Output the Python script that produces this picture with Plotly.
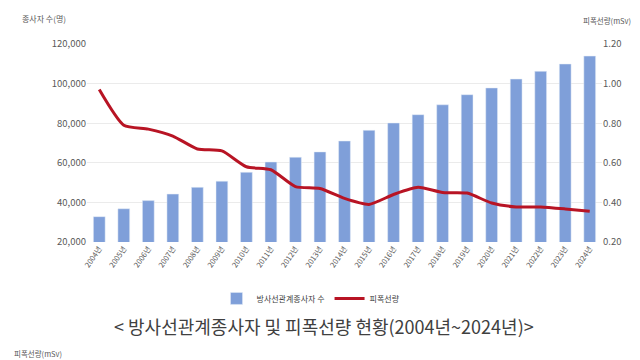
import plotly.graph_objects as go

years = [f"{y}년" for y in range(2004, 2025)]
workers = [32800, 36800, 40900, 44200, 47600, 50700, 55200, 60400, 62800, 65500,
           71000, 76400, 80100, 84300, 89300, 94400, 97800, 102300, 106200, 109900, 113900]
dose = [0.97, 0.79, 0.77, 0.735, 0.67, 0.66, 0.58, 0.565, 0.48, 0.47,
        0.42, 0.39, 0.44, 0.476, 0.45, 0.447, 0.397, 0.377, 0.377, 0.367, 0.355]

FONT = "Noto Sans CJK KR"
GRAY = "#595959"

fig = go.Figure()
fig.add_trace(go.Bar(x=years, y=workers, name="방사선관계종사자 수",
                     marker=dict(color="#7F9FD9"), yaxis="y"))
fig.add_trace(go.Scatter(x=years, y=dose, name="피폭선량", mode="lines",
                         line=dict(color="#B81424", width=3, shape="spline", smoothing=0.6),
                         yaxis="y2"))

fig.update_layout(
    width=640, height=360,
    margin=dict(l=79, r=46, t=36, b=126),
    paper_bgcolor="white", plot_bgcolor="white",
    font=dict(family=FONT, color=GRAY, size=9),
    bargap=0.52,
    showlegend=True,
    legend=dict(orientation="h", x=0.435, xanchor="center", y=-0.285, yanchor="middle",
                font=dict(size=8, color="#404040"), itemwidth=30, bgcolor="rgba(0,0,0,0)"),
    xaxis=dict(tickangle=-55, tickfont=dict(size=7.5, color=GRAY), showgrid=False,
               showline=False, ticks=""),
    yaxis=dict(range=[20000, 120000], dtick=20000, tickformat=",", showgrid=True,
               gridcolor="#EBEBEB", zeroline=False, tickfont=dict(size=9.5, color=GRAY)),
    yaxis2=dict(range=[0.2, 1.2], dtick=0.2, tickformat=".2f", overlaying="y", side="right",
                showgrid=False, zeroline=False, tickfont=dict(size=9.5, color=GRAY)),
    annotations=[
        dict(text="종사자 수(명)", xref="paper", yref="paper", x=-0.13, y=1.13,
             xanchor="left", yanchor="middle", showarrow=False, font=dict(size=8, color=GRAY)),
        dict(text="피폭선량(mSv)", xref="paper", yref="paper", x=1.06, y=1.12,
             xanchor="right", yanchor="middle", showarrow=False, font=dict(size=7.5, color=GRAY)),
        dict(text="< 방사선관계종사자 및 피폭선량 현황(2004년~2024년)>", xref="paper", yref="paper",
             x=0.46, y=-0.425, xanchor="center", yanchor="middle", showarrow=False,
             font=dict(size=18, color="#404040")),
        dict(text="피폭선량(mSv)", xref="paper", yref="paper", x=-0.145, y=-0.565,
             xanchor="left", yanchor="middle", showarrow=False, font=dict(size=7.5, color=GRAY)),
    ],
)

fig.write_html("out.html")
